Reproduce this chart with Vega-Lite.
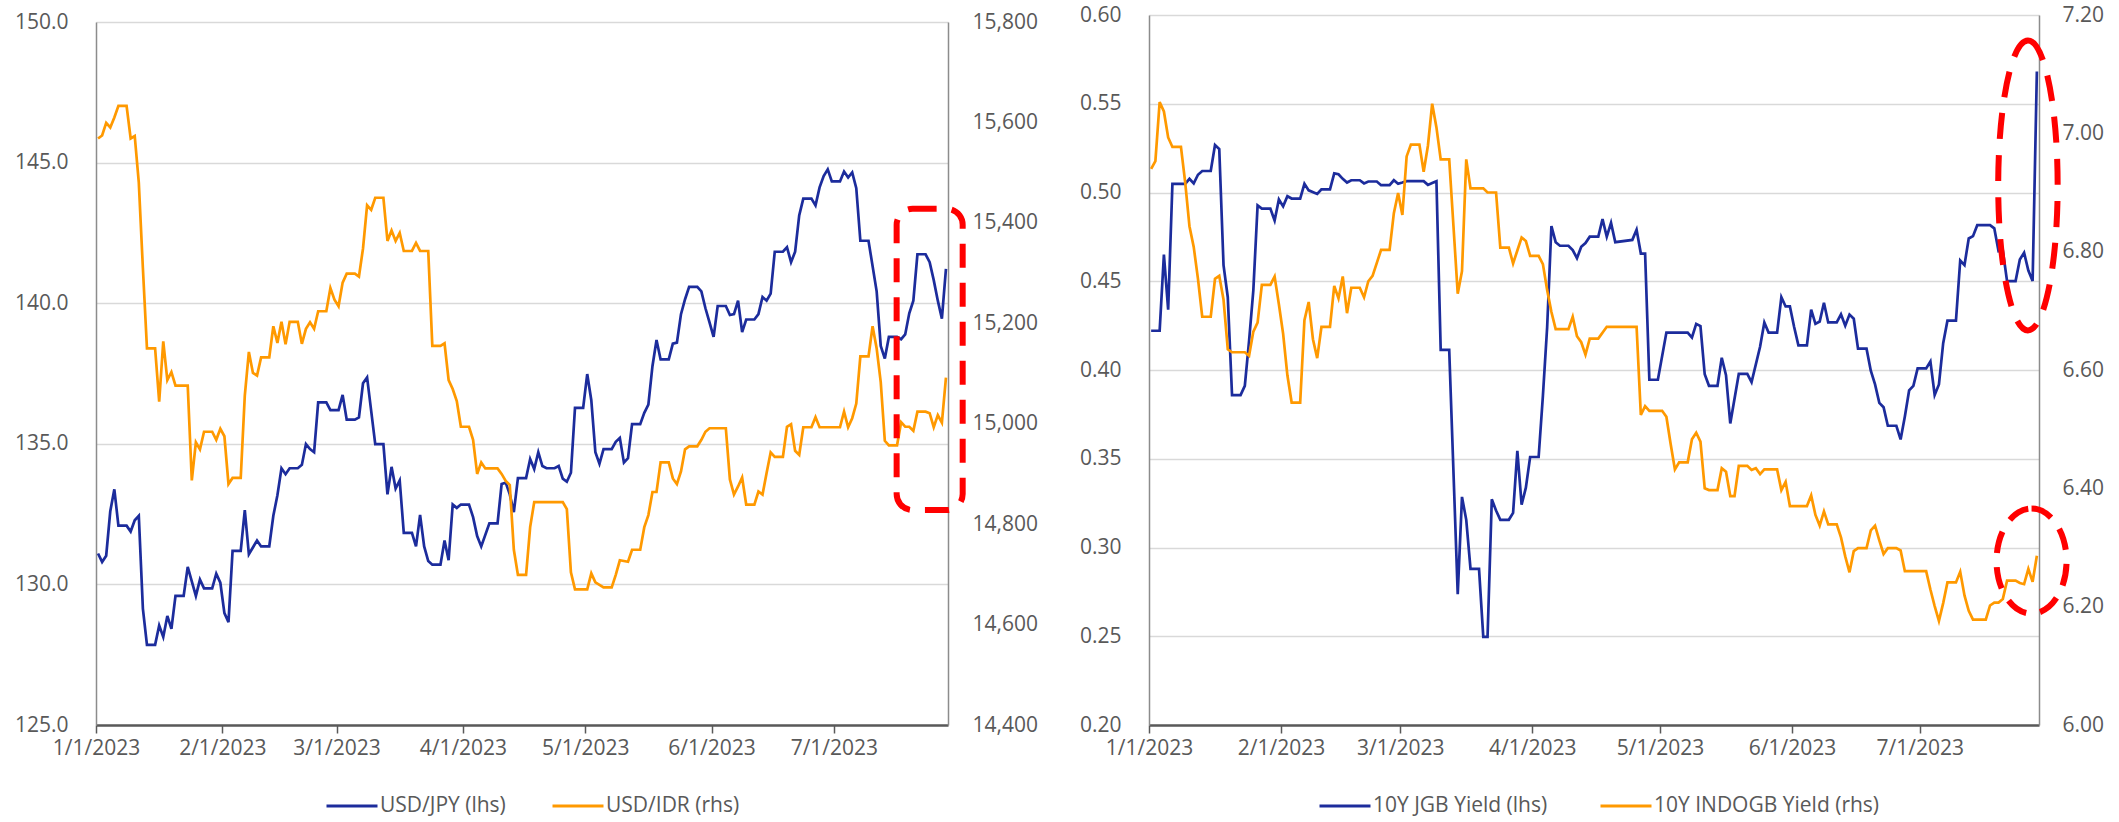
{
"$schema": "https://vega.github.io/schema/vega-lite/v6.json",
"padding": {"left": 14, "top": 4, "right": 0, "bottom": 3},
"spacing": 41,
"config": {
 "view": {"stroke": null},
 "font": "Open Sans",
 "axis": {"labelFont": "Open Sans", "labelFontSize": 21, "labelColor": "#595959"},
 "legend": {"labelFont": "Open Sans", "labelFontSize": 21, "labelColor": "#595959", "labelLimit": 600}
},
"datasets": {
"jpy": [
{"d":"2023-01-01T12:00","v":131.10},{"d":"2023-01-02T12:00","v":130.80},{"d":"2023-01-03T12:00","v":131.02},{"d":"2023-01-04T12:00","v":132.60},{"d":"2023-01-05T12:00","v":133.38},{"d":"2023-01-06T12:00","v":132.09},{"d":"2023-01-08T12:00","v":132.09},{"d":"2023-01-09T12:00","v":131.88},{"d":"2023-01-10T12:00","v":132.28},{"d":"2023-01-11T12:00","v":132.44},{"d":"2023-01-12T12:00","v":129.14},{"d":"2023-01-13T12:00","v":127.85},{"d":"2023-01-15T12:00","v":127.85},{"d":"2023-01-16T12:00","v":128.54},{"d":"2023-01-17T12:00","v":128.13},{"d":"2023-01-18T12:00","v":128.88},{"d":"2023-01-19T12:00","v":128.42},{"d":"2023-01-20T12:00","v":129.59},{"d":"2023-01-22T12:00","v":129.59},{"d":"2023-01-23T12:00","v":130.62},{"d":"2023-01-25T12:00","v":129.59},{"d":"2023-01-26T12:00","v":130.17},{"d":"2023-01-27T12:00","v":129.86},{"d":"2023-01-29T12:00","v":129.86},{"d":"2023-01-30T12:00","v":130.38},{"d":"2023-01-31T12:00","v":130.06},
{"d":"2023-02-01T12:00","v":128.98},{"d":"2023-02-02T12:00","v":128.66},{"d":"2023-02-03T12:00","v":131.19},{"d":"2023-02-05T12:00","v":131.19},{"d":"2023-02-06T12:00","v":132.64},{"d":"2023-02-07T12:00","v":131.07},{"d":"2023-02-09T12:00","v":131.56},{"d":"2023-02-10T12:00","v":131.35},{"d":"2023-02-12T12:00","v":131.35},{"d":"2023-02-13T12:00","v":132.44},{"d":"2023-02-14T12:00","v":133.17},{"d":"2023-02-15T12:00","v":134.13},{"d":"2023-02-16T12:00","v":133.92},{"d":"2023-02-17T12:00","v":134.13},{"d":"2023-02-19T12:00","v":134.13},{"d":"2023-02-20T12:00","v":134.25},{"d":"2023-02-21T12:00","v":134.99},{"d":"2023-02-22T12:00","v":134.81},{"d":"2023-02-23T12:00","v":134.70},{"d":"2023-02-24T12:00","v":136.47},{"d":"2023-02-26T12:00","v":136.47},{"d":"2023-02-27T12:00","v":136.20},
{"d":"2023-03-01T12:00","v":136.20},{"d":"2023-03-02T12:00","v":136.74},{"d":"2023-03-03T12:00","v":135.86},{"d":"2023-03-05T12:00","v":135.86},{"d":"2023-03-06T12:00","v":135.94},{"d":"2023-03-07T12:00","v":137.15},{"d":"2023-03-08T12:00","v":137.36},{"d":"2023-03-10T12:00","v":134.99},{"d":"2023-03-12T12:00","v":134.99},{"d":"2023-03-13T12:00","v":133.20},{"d":"2023-03-14T12:00","v":134.18},{"d":"2023-03-15T12:00","v":133.41},{"d":"2023-03-16T12:00","v":133.70},{"d":"2023-03-17T12:00","v":131.83},{"d":"2023-03-19T12:00","v":131.83},{"d":"2023-03-20T12:00","v":131.35},{"d":"2023-03-21T12:00","v":132.47},{"d":"2023-03-22T12:00","v":131.35},{"d":"2023-03-23T12:00","v":130.83},{"d":"2023-03-24T12:00","v":130.70},{"d":"2023-03-26T12:00","v":130.70},{"d":"2023-03-27T12:00","v":131.56},{"d":"2023-03-28T12:00","v":130.86},{"d":"2023-03-29T12:00","v":132.84},{"d":"2023-03-30T12:00","v":132.72},{"d":"2023-03-31T12:00","v":132.84},
{"d":"2023-04-02T12:00","v":132.84},{"d":"2023-04-03T12:00","v":132.39},{"d":"2023-04-04T12:00","v":131.72},{"d":"2023-04-05T12:00","v":131.35},{"d":"2023-04-07T12:00","v":132.17},{"d":"2023-04-09T12:00","v":132.17},{"d":"2023-04-10T12:00","v":133.57},{"d":"2023-04-11T12:00","v":133.62},{"d":"2023-04-12T12:00","v":133.20},{"d":"2023-04-13T12:00","v":132.57},{"d":"2023-04-14T12:00","v":133.78},{"d":"2023-04-16T12:00","v":133.78},{"d":"2023-04-17T12:00","v":134.46},{"d":"2023-04-18T12:00","v":134.10},{"d":"2023-04-19T12:00","v":134.70},{"d":"2023-04-20T12:00","v":134.21},{"d":"2023-04-21T12:00","v":134.13},{"d":"2023-04-23T12:00","v":134.13},{"d":"2023-04-24T12:00","v":134.21},{"d":"2023-04-25T12:00","v":133.76},{"d":"2023-04-26T12:00","v":133.65},{"d":"2023-04-27T12:00","v":133.97},{"d":"2023-04-28T12:00","v":136.28},{"d":"2023-04-30T12:00","v":136.28},
{"d":"2023-05-01T12:00","v":137.48},{"d":"2023-05-02T12:00","v":136.55},{"d":"2023-05-03T12:00","v":134.70},{"d":"2023-05-04T12:00","v":134.29},{"d":"2023-05-05T12:00","v":134.81},{"d":"2023-05-07T12:00","v":134.81},{"d":"2023-05-08T12:00","v":135.07},{"d":"2023-05-09T12:00","v":135.21},{"d":"2023-05-10T12:00","v":134.33},{"d":"2023-05-11T12:00","v":134.49},{"d":"2023-05-12T12:00","v":135.70},{"d":"2023-05-14T12:00","v":135.70},{"d":"2023-05-15T12:00","v":136.10},{"d":"2023-05-16T12:00","v":136.39},{"d":"2023-05-17T12:00","v":137.76},{"d":"2023-05-18T12:00","v":138.69},{"d":"2023-05-19T12:00","v":138.00},{"d":"2023-05-21T12:00","v":138.00},{"d":"2023-05-22T12:00","v":138.56},{"d":"2023-05-23T12:00","v":138.60},{"d":"2023-05-24T12:00","v":139.61},{"d":"2023-05-25T12:00","v":140.14},{"d":"2023-05-26T12:00","v":140.58},{"d":"2023-05-28T12:00","v":140.58},{"d":"2023-05-29T12:00","v":140.42},{"d":"2023-05-30T12:00","v":139.82},{"d":"2023-05-31T12:00","v":139.32},
{"d":"2023-06-01T12:00","v":138.80},{"d":"2023-06-02T12:00","v":139.90},{"d":"2023-06-04T12:00","v":139.90},{"d":"2023-06-05T12:00","v":139.58},{"d":"2023-06-06T12:00","v":139.61},{"d":"2023-06-07T12:00","v":140.09},{"d":"2023-06-08T12:00","v":138.97},{"d":"2023-06-09T12:00","v":139.42},{"d":"2023-06-11T12:00","v":139.42},{"d":"2023-06-12T12:00","v":139.61},{"d":"2023-06-13T12:00","v":140.22},{"d":"2023-06-14T12:00","v":140.09},{"d":"2023-06-15T12:00","v":140.34},{"d":"2023-06-16T12:00","v":141.83},{"d":"2023-06-18T12:00","v":141.83},{"d":"2023-06-19T12:00","v":141.99},{"d":"2023-06-20T12:00","v":141.46},{"d":"2023-06-21T12:00","v":141.83},{"d":"2023-06-22T12:00","v":143.12},{"d":"2023-06-23T12:00","v":143.72},{"d":"2023-06-25T12:00","v":143.72},{"d":"2023-06-26T12:00","v":143.48},{"d":"2023-06-27T12:00","v":144.12},{"d":"2023-06-28T12:00","v":144.52},{"d":"2023-06-29T12:00","v":144.76},{"d":"2023-06-30T12:00","v":144.33},
{"d":"2023-07-02T12:00","v":144.33},{"d":"2023-07-03T12:00","v":144.68},{"d":"2023-07-04T12:00","v":144.47},{"d":"2023-07-05T12:00","v":144.65},{"d":"2023-07-06T12:00","v":144.09},{"d":"2023-07-07T12:00","v":142.22},{"d":"2023-07-09T12:00","v":142.22},{"d":"2023-07-11T12:00","v":140.42},{"d":"2023-07-12T12:00","v":138.48},{"d":"2023-07-13T12:00","v":138.03},{"d":"2023-07-14T12:00","v":138.80},{"d":"2023-07-16T12:00","v":138.80},{"d":"2023-07-17T12:00","v":138.72},{"d":"2023-07-18T12:00","v":138.89},{"d":"2023-07-19T12:00","v":139.64},{"d":"2023-07-20T12:00","v":140.09},{"d":"2023-07-21T12:00","v":141.74},{"d":"2023-07-23T12:00","v":141.74},{"d":"2023-07-24T12:00","v":141.46},{"d":"2023-07-25T12:00","v":140.82},{"d":"2023-07-26T12:00","v":140.09},{"d":"2023-07-27T12:00","v":139.45},{"d":"2023-07-28T12:00","v":141.22}
],
"idr": [
{"d":"2023-01-01T12:00","v":15568},{"d":"2023-01-02T12:00","v":15574},{"d":"2023-01-03T12:00","v":15599},{"d":"2023-01-04T12:00","v":15590},{"d":"2023-01-05T12:00","v":15610},{"d":"2023-01-06T12:00","v":15633},{"d":"2023-01-08T12:00","v":15633},{"d":"2023-01-09T12:00","v":15568},{"d":"2023-01-10T12:00","v":15573},{"d":"2023-01-11T12:00","v":15480},{"d":"2023-01-12T12:00","v":15310},{"d":"2023-01-13T12:00","v":15150},{"d":"2023-01-15T12:00","v":15150},{"d":"2023-01-16T12:00","v":15044},{"d":"2023-01-17T12:00","v":15164},{"d":"2023-01-18T12:00","v":15087},{"d":"2023-01-19T12:00","v":15103},{"d":"2023-01-20T12:00","v":15076},{"d":"2023-01-23T12:00","v":15076},{"d":"2023-01-24T12:00","v":14887},{"d":"2023-01-25T12:00","v":14963},{"d":"2023-01-26T12:00","v":14949},{"d":"2023-01-27T12:00","v":14984},{"d":"2023-01-29T12:00","v":14984},{"d":"2023-01-30T12:00","v":14968},{"d":"2023-01-31T12:00","v":14990},
{"d":"2023-02-01T12:00","v":14975},{"d":"2023-02-02T12:00","v":14880},{"d":"2023-02-03T12:00","v":14892},{"d":"2023-02-05T12:00","v":14892},{"d":"2023-02-06T12:00","v":15056},{"d":"2023-02-07T12:00","v":15143},{"d":"2023-02-08T12:00","v":15101},{"d":"2023-02-09T12:00","v":15096},{"d":"2023-02-10T12:00","v":15132},{"d":"2023-02-12T12:00","v":15132},{"d":"2023-02-13T12:00","v":15194},{"d":"2023-02-14T12:00","v":15161},{"d":"2023-02-15T12:00","v":15203},{"d":"2023-02-16T12:00","v":15158},{"d":"2023-02-17T12:00","v":15203},{"d":"2023-02-19T12:00","v":15203},{"d":"2023-02-20T12:00","v":15159},{"d":"2023-02-21T12:00","v":15189},{"d":"2023-02-22T12:00","v":15202},{"d":"2023-02-23T12:00","v":15189},{"d":"2023-02-24T12:00","v":15224},{"d":"2023-02-26T12:00","v":15224},{"d":"2023-02-27T12:00","v":15270},{"d":"2023-02-28T12:00","v":15247},
{"d":"2023-03-01T12:00","v":15234},{"d":"2023-03-02T12:00","v":15281},{"d":"2023-03-03T12:00","v":15299},{"d":"2023-03-05T12:00","v":15299},{"d":"2023-03-06T12:00","v":15293},{"d":"2023-03-07T12:00","v":15349},{"d":"2023-03-08T12:00","v":15435},{"d":"2023-03-09T12:00","v":15426},{"d":"2023-03-10T12:00","v":15450},{"d":"2023-03-12T12:00","v":15450},{"d":"2023-03-13T12:00","v":15364},{"d":"2023-03-14T12:00","v":15385},{"d":"2023-03-15T12:00","v":15364},{"d":"2023-03-16T12:00","v":15380},{"d":"2023-03-17T12:00","v":15344},{"d":"2023-03-19T12:00","v":15344},{"d":"2023-03-20T12:00","v":15360},{"d":"2023-03-21T12:00","v":15344},{"d":"2023-03-23T12:00","v":15344},{"d":"2023-03-24T12:00","v":15155},{"d":"2023-03-26T12:00","v":15155},{"d":"2023-03-27T12:00","v":15160},{"d":"2023-03-28T12:00","v":15087},{"d":"2023-03-29T12:00","v":15069},{"d":"2023-03-30T12:00","v":15045},{"d":"2023-03-31T12:00","v":14994},
{"d":"2023-04-02T12:00","v":14994},{"d":"2023-04-03T12:00","v":14968},{"d":"2023-04-04T12:00","v":14900},{"d":"2023-04-05T12:00","v":14923},{"d":"2023-04-06T12:00","v":14911},{"d":"2023-04-09T12:00","v":14911},{"d":"2023-04-10T12:00","v":14900},{"d":"2023-04-11T12:00","v":14886},{"d":"2023-04-12T12:00","v":14878},{"d":"2023-04-13T12:00","v":14749},{"d":"2023-04-14T12:00","v":14699},{"d":"2023-04-16T12:00","v":14699},{"d":"2023-04-17T12:00","v":14794},{"d":"2023-04-18T12:00","v":14844},{"d":"2023-04-25T12:00","v":14844},{"d":"2023-04-26T12:00","v":14830},{"d":"2023-04-27T12:00","v":14704},{"d":"2023-04-28T12:00","v":14670},
{"d":"2023-05-01T12:00","v":14670},{"d":"2023-05-02T12:00","v":14702},{"d":"2023-05-03T12:00","v":14684},{"d":"2023-05-04T12:00","v":14679},{"d":"2023-05-05T12:00","v":14674},{"d":"2023-05-07T12:00","v":14674},{"d":"2023-05-08T12:00","v":14699},{"d":"2023-05-09T12:00","v":14728},{"d":"2023-05-11T12:00","v":14725},{"d":"2023-05-12T12:00","v":14749},{"d":"2023-05-14T12:00","v":14749},{"d":"2023-05-15T12:00","v":14794},{"d":"2023-05-16T12:00","v":14818},{"d":"2023-05-17T12:00","v":14864},{"d":"2023-05-18T12:00","v":14864},{"d":"2023-05-19T12:00","v":14923},{"d":"2023-05-21T12:00","v":14923},{"d":"2023-05-22T12:00","v":14891},{"d":"2023-05-23T12:00","v":14880},{"d":"2023-05-24T12:00","v":14905},{"d":"2023-05-25T12:00","v":14949},{"d":"2023-05-26T12:00","v":14955},{"d":"2023-05-28T12:00","v":14955},{"d":"2023-05-29T12:00","v":14968},{"d":"2023-05-30T12:00","v":14984},{"d":"2023-05-31T12:00","v":14991},
{"d":"2023-06-04T12:00","v":14991},{"d":"2023-06-05T12:00","v":14889},{"d":"2023-06-06T12:00","v":14859},{"d":"2023-06-07T12:00","v":14875},{"d":"2023-06-08T12:00","v":14893},{"d":"2023-06-09T12:00","v":14839},{"d":"2023-06-11T12:00","v":14839},{"d":"2023-06-12T12:00","v":14865},{"d":"2023-06-13T12:00","v":14859},{"d":"2023-06-14T12:00","v":14902},{"d":"2023-06-15T12:00","v":14943},{"d":"2023-06-16T12:00","v":14934},{"d":"2023-06-18T12:00","v":14934},{"d":"2023-06-19T12:00","v":14994},{"d":"2023-06-20T12:00","v":14999},{"d":"2023-06-21T12:00","v":14946},{"d":"2023-06-22T12:00","v":14938},{"d":"2023-06-23T12:00","v":14993},{"d":"2023-06-25T12:00","v":14993},{"d":"2023-06-26T12:00","v":15013},{"d":"2023-06-27T12:00","v":14993},
{"d":"2023-07-02T12:00","v":14993},{"d":"2023-07-03T12:00","v":15024},{"d":"2023-07-04T12:00","v":14993},{"d":"2023-07-05T12:00","v":15011},{"d":"2023-07-06T12:00","v":15040},{"d":"2023-07-07T12:00","v":15134},{"d":"2023-07-09T12:00","v":15134},{"d":"2023-07-10T12:00","v":15194},{"d":"2023-07-11T12:00","v":15150},{"d":"2023-07-12T12:00","v":15083},{"d":"2023-07-13T12:00","v":14966},{"d":"2023-07-14T12:00","v":14957},{"d":"2023-07-16T12:00","v":14957},{"d":"2023-07-17T12:00","v":15003},{"d":"2023-07-18T12:00","v":14994},{"d":"2023-07-19T12:00","v":14994},{"d":"2023-07-20T12:00","v":14986},{"d":"2023-07-21T12:00","v":15024},{"d":"2023-07-23T12:00","v":15024},{"d":"2023-07-24T12:00","v":15021},{"d":"2023-07-25T12:00","v":14993},{"d":"2023-07-26T12:00","v":15017},{"d":"2023-07-27T12:00","v":15002},{"d":"2023-07-28T12:00","v":15092}
],
"jgb": [
{"d":"2023-01-01T12:00","v":0.4221},{"d":"2023-01-03T12:00","v":0.4221},{"d":"2023-01-04T12:00","v":0.4650},{"d":"2023-01-05T12:00","v":0.4340},{"d":"2023-01-06T12:00","v":0.5049},{"d":"2023-01-09T12:00","v":0.5049},{"d":"2023-01-10T12:00","v":0.5077},{"d":"2023-01-11T12:00","v":0.5051},{"d":"2023-01-12T12:00","v":0.5100},{"d":"2023-01-13T12:00","v":0.5121},{"d":"2023-01-15T12:00","v":0.5121},{"d":"2023-01-16T12:00","v":0.5268},{"d":"2023-01-17T12:00","v":0.5245},{"d":"2023-01-18T12:00","v":0.4591},{"d":"2023-01-19T12:00","v":0.4410},{"d":"2023-01-20T12:00","v":0.3859},{"d":"2023-01-22T12:00","v":0.3859},{"d":"2023-01-23T12:00","v":0.3911},{"d":"2023-01-24T12:00","v":0.4164},{"d":"2023-01-25T12:00","v":0.4449},{"d":"2023-01-26T12:00","v":0.4927},{"d":"2023-01-27T12:00","v":0.4909},{"d":"2023-01-29T12:00","v":0.4909},{"d":"2023-01-30T12:00","v":0.4842},{"d":"2023-01-31T12:00","v":0.4961},
{"d":"2023-02-01T12:00","v":0.4922},{"d":"2023-02-02T12:00","v":0.4979},{"d":"2023-02-03T12:00","v":0.4966},{"d":"2023-02-05T12:00","v":0.4966},{"d":"2023-02-06T12:00","v":0.5049},{"d":"2023-02-07T12:00","v":0.5012},{"d":"2023-02-09T12:00","v":0.4992},{"d":"2023-02-10T12:00","v":0.5018},{"d":"2023-02-12T12:00","v":0.5018},{"d":"2023-02-13T12:00","v":0.5108},{"d":"2023-02-14T12:00","v":0.5103},{"d":"2023-02-15T12:00","v":0.5077},{"d":"2023-02-16T12:00","v":0.5056},{"d":"2023-02-17T12:00","v":0.5069},{"d":"2023-02-19T12:00","v":0.5069},{"d":"2023-02-20T12:00","v":0.5051},{"d":"2023-02-21T12:00","v":0.5062},{"d":"2023-02-23T12:00","v":0.5062},{"d":"2023-02-24T12:00","v":0.5041},{"d":"2023-02-26T12:00","v":0.5041},{"d":"2023-02-27T12:00","v":0.5069},{"d":"2023-02-28T12:00","v":0.5049},
{"d":"2023-03-01T12:00","v":0.5056},{"d":"2023-03-02T12:00","v":0.5064},{"d":"2023-03-06T12:00","v":0.5064},{"d":"2023-03-07T12:00","v":0.5043},{"d":"2023-03-08T12:00","v":0.5054},{"d":"2023-03-09T12:00","v":0.5064},{"d":"2023-03-10T12:00","v":0.4113},{"d":"2023-03-12T12:00","v":0.4113},{"d":"2023-03-14T12:00","v":0.2737},{"d":"2023-03-15T12:00","v":0.3285},{"d":"2023-03-16T12:00","v":0.3156},{"d":"2023-03-17T12:00","v":0.2880},{"d":"2023-03-19T12:00","v":0.2880},{"d":"2023-03-20T12:00","v":0.2497},{"d":"2023-03-21T12:00","v":0.2497},{"d":"2023-03-22T12:00","v":0.3272},{"d":"2023-03-23T12:00","v":0.3208},{"d":"2023-03-24T12:00","v":0.3156},{"d":"2023-03-26T12:00","v":0.3156},{"d":"2023-03-27T12:00","v":0.3195},{"d":"2023-03-28T12:00","v":0.3544},{"d":"2023-03-29T12:00","v":0.3241},{"d":"2023-03-30T12:00","v":0.3337},{"d":"2023-03-31T12:00","v":0.3510},
{"d":"2023-04-02T12:00","v":0.3510},{"d":"2023-04-03T12:00","v":0.3854},{"d":"2023-04-04T12:00","v":0.4242},{"d":"2023-04-05T12:00","v":0.4811},{"d":"2023-04-06T12:00","v":0.4720},{"d":"2023-04-07T12:00","v":0.4700},{"d":"2023-04-09T12:00","v":0.4700},{"d":"2023-04-10T12:00","v":0.4676},{"d":"2023-04-11T12:00","v":0.4630},{"d":"2023-04-12T12:00","v":0.4694},{"d":"2023-04-13T12:00","v":0.4715},{"d":"2023-04-14T12:00","v":0.4751},{"d":"2023-04-16T12:00","v":0.4751},{"d":"2023-04-17T12:00","v":0.4850},{"d":"2023-04-18T12:00","v":0.4751},{"d":"2023-04-19T12:00","v":0.4829},{"d":"2023-04-20T12:00","v":0.4720},{"d":"2023-04-24T12:00","v":0.4733},{"d":"2023-04-25T12:00","v":0.4790},{"d":"2023-04-26T12:00","v":0.4656},{"d":"2023-04-27T12:00","v":0.4656},{"d":"2023-04-28T12:00","v":0.3945},{"d":"2023-04-30T12:00","v":0.3945},
{"d":"2023-05-02T12:00","v":0.4211},{"d":"2023-05-07T12:00","v":0.4211},{"d":"2023-05-08T12:00","v":0.4183},{"d":"2023-05-09T12:00","v":0.4260},{"d":"2023-05-10T12:00","v":0.4247},{"d":"2023-05-11T12:00","v":0.3976},{"d":"2023-05-12T12:00","v":0.3911},{"d":"2023-05-14T12:00","v":0.3911},{"d":"2023-05-15T12:00","v":0.4069},{"d":"2023-05-16T12:00","v":0.3971},{"d":"2023-05-17T12:00","v":0.3699},{"d":"2023-05-19T12:00","v":0.3978},{"d":"2023-05-21T12:00","v":0.3978},{"d":"2023-05-22T12:00","v":0.3932},{"d":"2023-05-24T12:00","v":0.4131},{"d":"2023-05-25T12:00","v":0.4268},{"d":"2023-05-26T12:00","v":0.4211},{"d":"2023-05-28T12:00","v":0.4211},{"d":"2023-05-29T12:00","v":0.4410},{"d":"2023-05-30T12:00","v":0.4358},{"d":"2023-05-31T12:00","v":0.4358},
{"d":"2023-06-01T12:00","v":0.4242},{"d":"2023-06-02T12:00","v":0.4139},{"d":"2023-06-04T12:00","v":0.4139},{"d":"2023-06-05T12:00","v":0.4340},{"d":"2023-06-06T12:00","v":0.4260},{"d":"2023-06-07T12:00","v":0.4273},{"d":"2023-06-08T12:00","v":0.4379},{"d":"2023-06-09T12:00","v":0.4268},{"d":"2023-06-11T12:00","v":0.4268},{"d":"2023-06-12T12:00","v":0.4314},{"d":"2023-06-13T12:00","v":0.4250},{"d":"2023-06-14T12:00","v":0.4312},{"d":"2023-06-15T12:00","v":0.4289},{"d":"2023-06-16T12:00","v":0.4120},{"d":"2023-06-18T12:00","v":0.4120},{"d":"2023-06-19T12:00","v":0.3996},{"d":"2023-06-20T12:00","v":0.3919},{"d":"2023-06-21T12:00","v":0.3815},{"d":"2023-06-22T12:00","v":0.3790},{"d":"2023-06-23T12:00","v":0.3686},{"d":"2023-06-25T12:00","v":0.3686},{"d":"2023-06-26T12:00","v":0.3609},{"d":"2023-06-27T12:00","v":0.3738},{"d":"2023-06-28T12:00","v":0.3885},{"d":"2023-06-29T12:00","v":0.3911},{"d":"2023-06-30T12:00","v":0.4009},
{"d":"2023-07-02T12:00","v":0.4009},{"d":"2023-07-03T12:00","v":0.4048},{"d":"2023-07-04T12:00","v":0.3859},{"d":"2023-07-05T12:00","v":0.3919},{"d":"2023-07-06T12:00","v":0.4151},{"d":"2023-07-07T12:00","v":0.4278},{"d":"2023-07-09T12:00","v":0.4278},{"d":"2023-07-10T12:00","v":0.4617},{"d":"2023-07-11T12:00","v":0.4591},{"d":"2023-07-12T12:00","v":0.4741},{"d":"2023-07-13T12:00","v":0.4754},{"d":"2023-07-14T12:00","v":0.4816},{"d":"2023-07-17T12:00","v":0.4816},{"d":"2023-07-18T12:00","v":0.4798},{"d":"2023-07-19T12:00","v":0.4669},{"d":"2023-07-20T12:00","v":0.4674},{"d":"2023-07-21T12:00","v":0.4501},{"d":"2023-07-23T12:00","v":0.4501},{"d":"2023-07-24T12:00","v":0.4622},{"d":"2023-07-25T12:00","v":0.4661},{"d":"2023-07-26T12:00","v":0.4560},{"d":"2023-07-27T12:00","v":0.4501},{"d":"2023-07-28T12:00","v":0.5682}
],
"indo": [
{"d":"2023-01-01T12:00","v":6.940},{"d":"2023-01-02T12:00","v":6.953},{"d":"2023-01-03T12:00","v":7.053},{"d":"2023-01-04T12:00","v":7.037},{"d":"2023-01-05T12:00","v":6.993},{"d":"2023-01-06T12:00","v":6.977},{"d":"2023-01-08T12:00","v":6.977},{"d":"2023-01-09T12:00","v":6.917},{"d":"2023-01-10T12:00","v":6.843},{"d":"2023-01-11T12:00","v":6.808},{"d":"2023-01-12T12:00","v":6.754},{"d":"2023-01-13T12:00","v":6.690},{"d":"2023-01-15T12:00","v":6.690},{"d":"2023-01-16T12:00","v":6.754},{"d":"2023-01-17T12:00","v":6.759},{"d":"2023-01-18T12:00","v":6.719},{"d":"2023-01-19T12:00","v":6.635},{"d":"2023-01-20T12:00","v":6.630},{"d":"2023-01-23T12:00","v":6.630},{"d":"2023-01-24T12:00","v":6.624},{"d":"2023-01-25T12:00","v":6.665},{"d":"2023-01-26T12:00","v":6.680},{"d":"2023-01-27T12:00","v":6.744},{"d":"2023-01-29T12:00","v":6.744},{"d":"2023-01-30T12:00","v":6.758},{"d":"2023-01-31T12:00","v":6.711},
{"d":"2023-02-01T12:00","v":6.661},{"d":"2023-02-02T12:00","v":6.591},{"d":"2023-02-03T12:00","v":6.545},{"d":"2023-02-05T12:00","v":6.545},{"d":"2023-02-06T12:00","v":6.684},{"d":"2023-02-07T12:00","v":6.715},{"d":"2023-02-08T12:00","v":6.652},{"d":"2023-02-09T12:00","v":6.620},{"d":"2023-02-10T12:00","v":6.673},{"d":"2023-02-12T12:00","v":6.673},{"d":"2023-02-13T12:00","v":6.742},{"d":"2023-02-14T12:00","v":6.721},{"d":"2023-02-15T12:00","v":6.758},{"d":"2023-02-16T12:00","v":6.696},{"d":"2023-02-17T12:00","v":6.739},{"d":"2023-02-19T12:00","v":6.739},{"d":"2023-02-20T12:00","v":6.723},{"d":"2023-02-21T12:00","v":6.750},{"d":"2023-02-22T12:00","v":6.759},{"d":"2023-02-23T12:00","v":6.781},{"d":"2023-02-24T12:00","v":6.803},{"d":"2023-02-26T12:00","v":6.803},{"d":"2023-02-27T12:00","v":6.865},{"d":"2023-02-28T12:00","v":6.899},
{"d":"2023-03-01T12:00","v":6.862},{"d":"2023-03-02T12:00","v":6.961},{"d":"2023-03-03T12:00","v":6.981},{"d":"2023-03-05T12:00","v":6.981},{"d":"2023-03-06T12:00","v":6.935},{"d":"2023-03-07T12:00","v":6.979},{"d":"2023-03-08T12:00","v":7.050},{"d":"2023-03-09T12:00","v":7.010},{"d":"2023-03-10T12:00","v":6.956},{"d":"2023-03-12T12:00","v":6.956},{"d":"2023-03-13T12:00","v":6.843},{"d":"2023-03-14T12:00","v":6.729},{"d":"2023-03-15T12:00","v":6.767},{"d":"2023-03-16T12:00","v":6.956},{"d":"2023-03-17T12:00","v":6.907},{"d":"2023-03-20T12:00","v":6.907},{"d":"2023-03-21T12:00","v":6.900},{"d":"2023-03-23T12:00","v":6.900},{"d":"2023-03-24T12:00","v":6.807},{"d":"2023-03-26T12:00","v":6.807},{"d":"2023-03-27T12:00","v":6.780},{"d":"2023-03-28T12:00","v":6.802},{"d":"2023-03-29T12:00","v":6.824},{"d":"2023-03-30T12:00","v":6.818},{"d":"2023-03-31T12:00","v":6.793},
{"d":"2023-04-02T12:00","v":6.793},{"d":"2023-04-03T12:00","v":6.779},{"d":"2023-04-04T12:00","v":6.735},{"d":"2023-04-05T12:00","v":6.698},{"d":"2023-04-06T12:00","v":6.669},{"d":"2023-04-09T12:00","v":6.669},{"d":"2023-04-10T12:00","v":6.690},{"d":"2023-04-11T12:00","v":6.657},{"d":"2023-04-12T12:00","v":6.647},{"d":"2023-04-13T12:00","v":6.626},{"d":"2023-04-14T12:00","v":6.653},{"d":"2023-04-16T12:00","v":6.653},{"d":"2023-04-18T12:00","v":6.673},{"d":"2023-04-25T12:00","v":6.673},{"d":"2023-04-26T12:00","v":6.524},{"d":"2023-04-27T12:00","v":6.539},{"d":"2023-04-28T12:00","v":6.531},
{"d":"2023-05-01T12:00","v":6.531},{"d":"2023-05-02T12:00","v":6.521},{"d":"2023-05-03T12:00","v":6.475},{"d":"2023-05-04T12:00","v":6.432},{"d":"2023-05-05T12:00","v":6.444},{"d":"2023-05-07T12:00","v":6.444},{"d":"2023-05-08T12:00","v":6.483},{"d":"2023-05-09T12:00","v":6.494},{"d":"2023-05-10T12:00","v":6.479},{"d":"2023-05-11T12:00","v":6.400},{"d":"2023-05-12T12:00","v":6.397},{"d":"2023-05-14T12:00","v":6.397},{"d":"2023-05-15T12:00","v":6.434},{"d":"2023-05-16T12:00","v":6.428},{"d":"2023-05-17T12:00","v":6.387},{"d":"2023-05-18T12:00","v":6.387},{"d":"2023-05-19T12:00","v":6.438},{"d":"2023-05-21T12:00","v":6.438},{"d":"2023-05-22T12:00","v":6.431},{"d":"2023-05-23T12:00","v":6.434},{"d":"2023-05-24T12:00","v":6.424},{"d":"2023-05-25T12:00","v":6.432},{"d":"2023-05-28T12:00","v":6.432},{"d":"2023-05-29T12:00","v":6.397},{"d":"2023-05-30T12:00","v":6.411},{"d":"2023-05-31T12:00","v":6.370},
{"d":"2023-06-04T12:00","v":6.370},{"d":"2023-06-05T12:00","v":6.388},{"d":"2023-06-06T12:00","v":6.355},{"d":"2023-06-07T12:00","v":6.337},{"d":"2023-06-08T12:00","v":6.361},{"d":"2023-06-09T12:00","v":6.339},{"d":"2023-06-11T12:00","v":6.339},{"d":"2023-06-12T12:00","v":6.317},{"d":"2023-06-13T12:00","v":6.285},{"d":"2023-06-14T12:00","v":6.258},{"d":"2023-06-15T12:00","v":6.294},{"d":"2023-06-16T12:00","v":6.299},{"d":"2023-06-18T12:00","v":6.299},{"d":"2023-06-19T12:00","v":6.329},{"d":"2023-06-20T12:00","v":6.337},{"d":"2023-06-21T12:00","v":6.312},{"d":"2023-06-22T12:00","v":6.289},{"d":"2023-06-23T12:00","v":6.299},{"d":"2023-06-25T12:00","v":6.299},{"d":"2023-06-26T12:00","v":6.295},{"d":"2023-06-27T12:00","v":6.260},
{"d":"2023-07-02T12:00","v":6.260},{"d":"2023-07-03T12:00","v":6.229},{"d":"2023-07-04T12:00","v":6.201},{"d":"2023-07-05T12:00","v":6.176},{"d":"2023-07-06T12:00","v":6.206},{"d":"2023-07-07T12:00","v":6.241},{"d":"2023-07-09T12:00","v":6.241},{"d":"2023-07-10T12:00","v":6.259},{"d":"2023-07-11T12:00","v":6.219},{"d":"2023-07-12T12:00","v":6.193},{"d":"2023-07-13T12:00","v":6.178},{"d":"2023-07-16T12:00","v":6.178},{"d":"2023-07-17T12:00","v":6.202},{"d":"2023-07-18T12:00","v":6.207},{"d":"2023-07-19T12:00","v":6.207},{"d":"2023-07-20T12:00","v":6.213},{"d":"2023-07-21T12:00","v":6.244},{"d":"2023-07-23T12:00","v":6.244},{"d":"2023-07-24T12:00","v":6.240},{"d":"2023-07-25T12:00","v":6.238},{"d":"2023-07-26T12:00","v":6.264},{"d":"2023-07-27T12:00","v":6.242},{"d":"2023-07-28T12:00","v":6.286}
]
},
"hconcat": [
{
 "width": 852, "height": 710,
 "layer": [
  {
   "data": {"name": "jpy"},
   "mark": {"type": "line", "strokeWidth": 2.7},
   "encoding": {
    "x": {"field": "d", "type": "temporal", "scale": {"domain": [{"year": 2023, "month": 1, "date": 1}, {"year": 2023, "month": 7, "date": 29}]},
          "axis": {"title": null, "values": [{"year":2023,"month":1,"date":1},{"year":2023,"month":2,"date":1},{"year":2023,"month":3,"date":1},{"year":2023,"month":4,"date":1},{"year":2023,"month":5,"date":1},{"year":2023,"month":6,"date":1},{"year":2023,"month":7,"date":1}], "format": "%-m/%-d/%Y", "labelAngle": 0, "labelFlush": false, "labelOverlap": false, "grid": false, "tickSize": 8, "tickColor": "#595959", "tickWidth": 1.5, "domainColor": "#595959", "domainWidth": 2.5, "labelPadding": 4}},
    "y": {"field": "v", "type": "quantitative", "scale": {"domain": [125, 150], "range": [710, 7], "nice": false, "zero": false},
          "axis": {"title": null, "orient": "left", "values": [125, 130, 135, 140, 145, 150], "format": ".1f", "grid": true, "gridColor": "#D9D9D9", "gridWidth": 1.5, "ticks": false, "tickSize": 0, "domainColor": "#8C8C8C", "domainWidth": 1.5, "labelPadding": 28}},
    "color": {"datum": "USD/JPY (lhs)", "scale": {"domain": ["USD/JPY (lhs)", "USD/IDR (rhs)"], "range": ["#1C2C9C", "#FF9900"]},
              "legend": {"orient": "none", "legendX": 242, "legendY": 777, "direction": "horizontal", "columns": 2, "title": null, "symbolType": "M-2.04,0H2.04", "symbolSize": 625, "symbolStrokeWidth": 3, "labelFontSize": 21, "labelColor": "#595959", "labelOffset": 14, "labelLimit": 600, "columnPadding": 40, "padding": 0}}
   }
  },
  {
   "layer": [
    {
     "data": {"name": "idr"},
     "mark": {"type": "line", "strokeWidth": 2.7},
     "encoding": {
      "x": {"field": "d", "type": "temporal", "scale": {"domain": [{"year": 2023, "month": 1, "date": 1}, {"year": 2023, "month": 7, "date": 29}]},
            "axis": {"title": null, "values": [{"year":2023,"month":1,"date":1},{"year":2023,"month":2,"date":1},{"year":2023,"month":3,"date":1},{"year":2023,"month":4,"date":1},{"year":2023,"month":5,"date":1},{"year":2023,"month":6,"date":1},{"year":2023,"month":7,"date":1}], "format": "%-m/%-d/%Y", "labelAngle": 0, "labelFlush": false, "labelOverlap": false, "grid": false, "tickSize": 8, "tickColor": "#595959", "tickWidth": 1.5, "domainColor": "#595959", "domainWidth": 2.5, "labelPadding": 4}},
      "y": {"field": "v", "type": "quantitative", "scale": {"domain": [14400, 15800], "range": [710, 7], "nice": false, "zero": false},
            "axis": {"title": null, "orient": "right", "values": [14400, 14600, 14800, 15000, 15200, 15400, 15600, 15800], "format": ",d", "grid": false, "ticks": false, "tickSize": 0, "domainColor": "#8C8C8C", "domainWidth": 1.5, "labelPadding": 24}},
      "color": {"datum": "USD/IDR (rhs)"}
     }
    },
    {
     "data": {"values": [{"x1": "2023-07-16T09:36", "x2": "2023-08-01T14:24", "y1": 15428, "y2": 14828}]},
     "mark": {"type": "rect", "filled": false, "stroke": "#FF0000", "strokeWidth": 6, "strokeDash": [24, 15], "cornerRadius": 16},
     "encoding": {
      "x": {"field": "x1", "type": "temporal", "scale": {"domain": [{"year": 2023, "month": 1, "date": 1}, {"year": 2023, "month": 7, "date": 29}]},
            "axis": {"title": null, "values": [{"year":2023,"month":1,"date":1},{"year":2023,"month":2,"date":1},{"year":2023,"month":3,"date":1},{"year":2023,"month":4,"date":1},{"year":2023,"month":5,"date":1},{"year":2023,"month":6,"date":1},{"year":2023,"month":7,"date":1}], "format": "%-m/%-d/%Y", "labelAngle": 0, "labelFlush": false, "labelOverlap": false, "grid": false, "tickSize": 8, "tickColor": "#595959", "tickWidth": 1.5, "domainColor": "#595959", "domainWidth": 2.5, "labelPadding": 4}},
      "x2": {"field": "x2"},
      "y": {"field": "y1", "type": "quantitative", "axis": {"title": null}},
      "y2": {"field": "y2"}
     }
    }
   ]
  }
 ],
 "resolve": {"scale": {"y": "independent"}}
},
{
 "width": 890, "height": 710,
 "layer": [
  {
   "data": {"name": "jgb"},
   "mark": {"type": "line", "strokeWidth": 2.7},
   "encoding": {
    "x": {"field": "d", "type": "temporal", "scale": {"domain": [{"year": 2023, "month": 1, "date": 1}, {"year": 2023, "month": 7, "date": 29}]},
          "axis": {"title": null, "values": [{"year":2023,"month":1,"date":1},{"year":2023,"month":2,"date":1},{"year":2023,"month":3,"date":1},{"year":2023,"month":4,"date":1},{"year":2023,"month":5,"date":1},{"year":2023,"month":6,"date":1},{"year":2023,"month":7,"date":1}], "format": "%-m/%-d/%Y", "labelAngle": 0, "labelFlush": false, "labelOverlap": false, "grid": false, "tickSize": 8, "tickColor": "#595959", "tickWidth": 1.5, "domainColor": "#595959", "domainWidth": 2.5, "labelPadding": 4}},
    "y": {"field": "v", "type": "quantitative", "scale": {"domain": [0.2, 0.6], "nice": false, "zero": false},
          "axis": {"title": null, "orient": "left", "values": [0.2, 0.25, 0.3, 0.35, 0.4, 0.45, 0.5, 0.55, 0.6], "format": ".2f", "grid": true, "gridColor": "#D9D9D9", "gridWidth": 1.5, "ticks": false, "tickSize": 0, "domainColor": "#8C8C8C", "domainWidth": 1.5, "labelPadding": 28}},
    "color": {"datum": "10Y JGB Yield (lhs)", "scale": {"domain": ["10Y JGB Yield (lhs)", "10Y INDOGB Yield (rhs)"], "range": ["#1C2C9C", "#FF9900"]},
              "legend": {"orient": "none", "legendX": 182, "legendY": 777, "direction": "horizontal", "columns": 2, "title": null, "symbolType": "M-2.04,0H2.04", "symbolSize": 625, "symbolStrokeWidth": 3, "labelFontSize": 21, "labelColor": "#595959", "labelOffset": 14, "labelLimit": 600, "columnPadding": 46, "padding": 0}}
   }
  },
  {
   "layer": [
    {
     "data": {"name": "indo"},
     "mark": {"type": "line", "strokeWidth": 2.7},
     "encoding": {
      "x": {"field": "d", "type": "temporal", "scale": {"domain": [{"year": 2023, "month": 1, "date": 1}, {"year": 2023, "month": 7, "date": 29}]},
            "axis": {"title": null, "values": [{"year":2023,"month":1,"date":1},{"year":2023,"month":2,"date":1},{"year":2023,"month":3,"date":1},{"year":2023,"month":4,"date":1},{"year":2023,"month":5,"date":1},{"year":2023,"month":6,"date":1},{"year":2023,"month":7,"date":1}], "format": "%-m/%-d/%Y", "labelAngle": 0, "labelFlush": false, "labelOverlap": false, "grid": false, "tickSize": 8, "tickColor": "#595959", "tickWidth": 1.5, "domainColor": "#595959", "domainWidth": 2.5, "labelPadding": 4}},
      "y": {"field": "v", "type": "quantitative", "scale": {"domain": [6.0, 7.2], "nice": false, "zero": false},
            "axis": {"title": null, "orient": "right", "values": [6.0, 6.2, 6.4, 6.6, 6.8, 7.0, 7.2], "format": ".2f", "grid": false, "ticks": false, "tickSize": 0, "domainColor": "#8C8C8C", "domainWidth": 1.5, "labelPadding": 23}},
      "color": {"datum": "10Y INDOGB Yield (rhs)"}
     }
    },
    {
     "data": {"values": [{"d": "2023-07-26T09:36", "v": 6.912}]},
     "mark": {"type": "point", "shape": "M0,-1C0.113,-1 0.205,-0.552 0.205,0C0.205,0.552 0.113,1 0,1C-0.113,1 -0.205,0.552 -0.205,0C-0.205,-0.552 -0.113,-1 0,-1Z", "size": 84100, "filled": false, "stroke": "#FF0000", "strokeWidth": 6, "strokeDash": [26, 16], "opacity": 1},
     "encoding": {
      "x": {"field": "d", "type": "temporal", "scale": {"domain": [{"year": 2023, "month": 1, "date": 1}, {"year": 2023, "month": 7, "date": 29}]},
            "axis": {"title": null, "values": [{"year":2023,"month":1,"date":1},{"year":2023,"month":2,"date":1},{"year":2023,"month":3,"date":1},{"year":2023,"month":4,"date":1},{"year":2023,"month":5,"date":1},{"year":2023,"month":6,"date":1},{"year":2023,"month":7,"date":1}], "format": "%-m/%-d/%Y", "labelAngle": 0, "labelFlush": false, "labelOverlap": false, "grid": false, "tickSize": 8, "tickColor": "#595959", "tickWidth": 1.5, "domainColor": "#595959", "domainWidth": 2.5, "labelPadding": 4}},
      "y": {"field": "v", "type": "quantitative", "axis": {"title": null}}
     }
    },
    {
     "data": {"values": [{"d": "2023-07-27T06:00", "v": 6.277}]},
     "mark": {"type": "point", "shape": "M0,-1C0.368,-1 0.667,-0.552 0.667,0C0.667,0.552 0.368,1 0,1C-0.368,1 -0.667,0.552 -0.667,0C-0.667,-0.552 -0.368,-1 0,-1Z", "size": 11025, "filled": false, "stroke": "#FF0000", "strokeWidth": 6, "strokeDash": [22, 14], "opacity": 1},
     "encoding": {
      "x": {"field": "d", "type": "temporal", "scale": {"domain": [{"year": 2023, "month": 1, "date": 1}, {"year": 2023, "month": 7, "date": 29}]},
            "axis": {"title": null, "values": [{"year":2023,"month":1,"date":1},{"year":2023,"month":2,"date":1},{"year":2023,"month":3,"date":1},{"year":2023,"month":4,"date":1},{"year":2023,"month":5,"date":1},{"year":2023,"month":6,"date":1},{"year":2023,"month":7,"date":1}], "format": "%-m/%-d/%Y", "labelAngle": 0, "labelFlush": false, "labelOverlap": false, "grid": false, "tickSize": 8, "tickColor": "#595959", "tickWidth": 1.5, "domainColor": "#595959", "domainWidth": 2.5, "labelPadding": 4}},
      "y": {"field": "v", "type": "quantitative", "axis": {"title": null}}
     }
    }
   ]
  }
 ],
 "resolve": {"scale": {"y": "independent"}}
}
],
"resolve": {"scale": {"color": "independent"}}
}
